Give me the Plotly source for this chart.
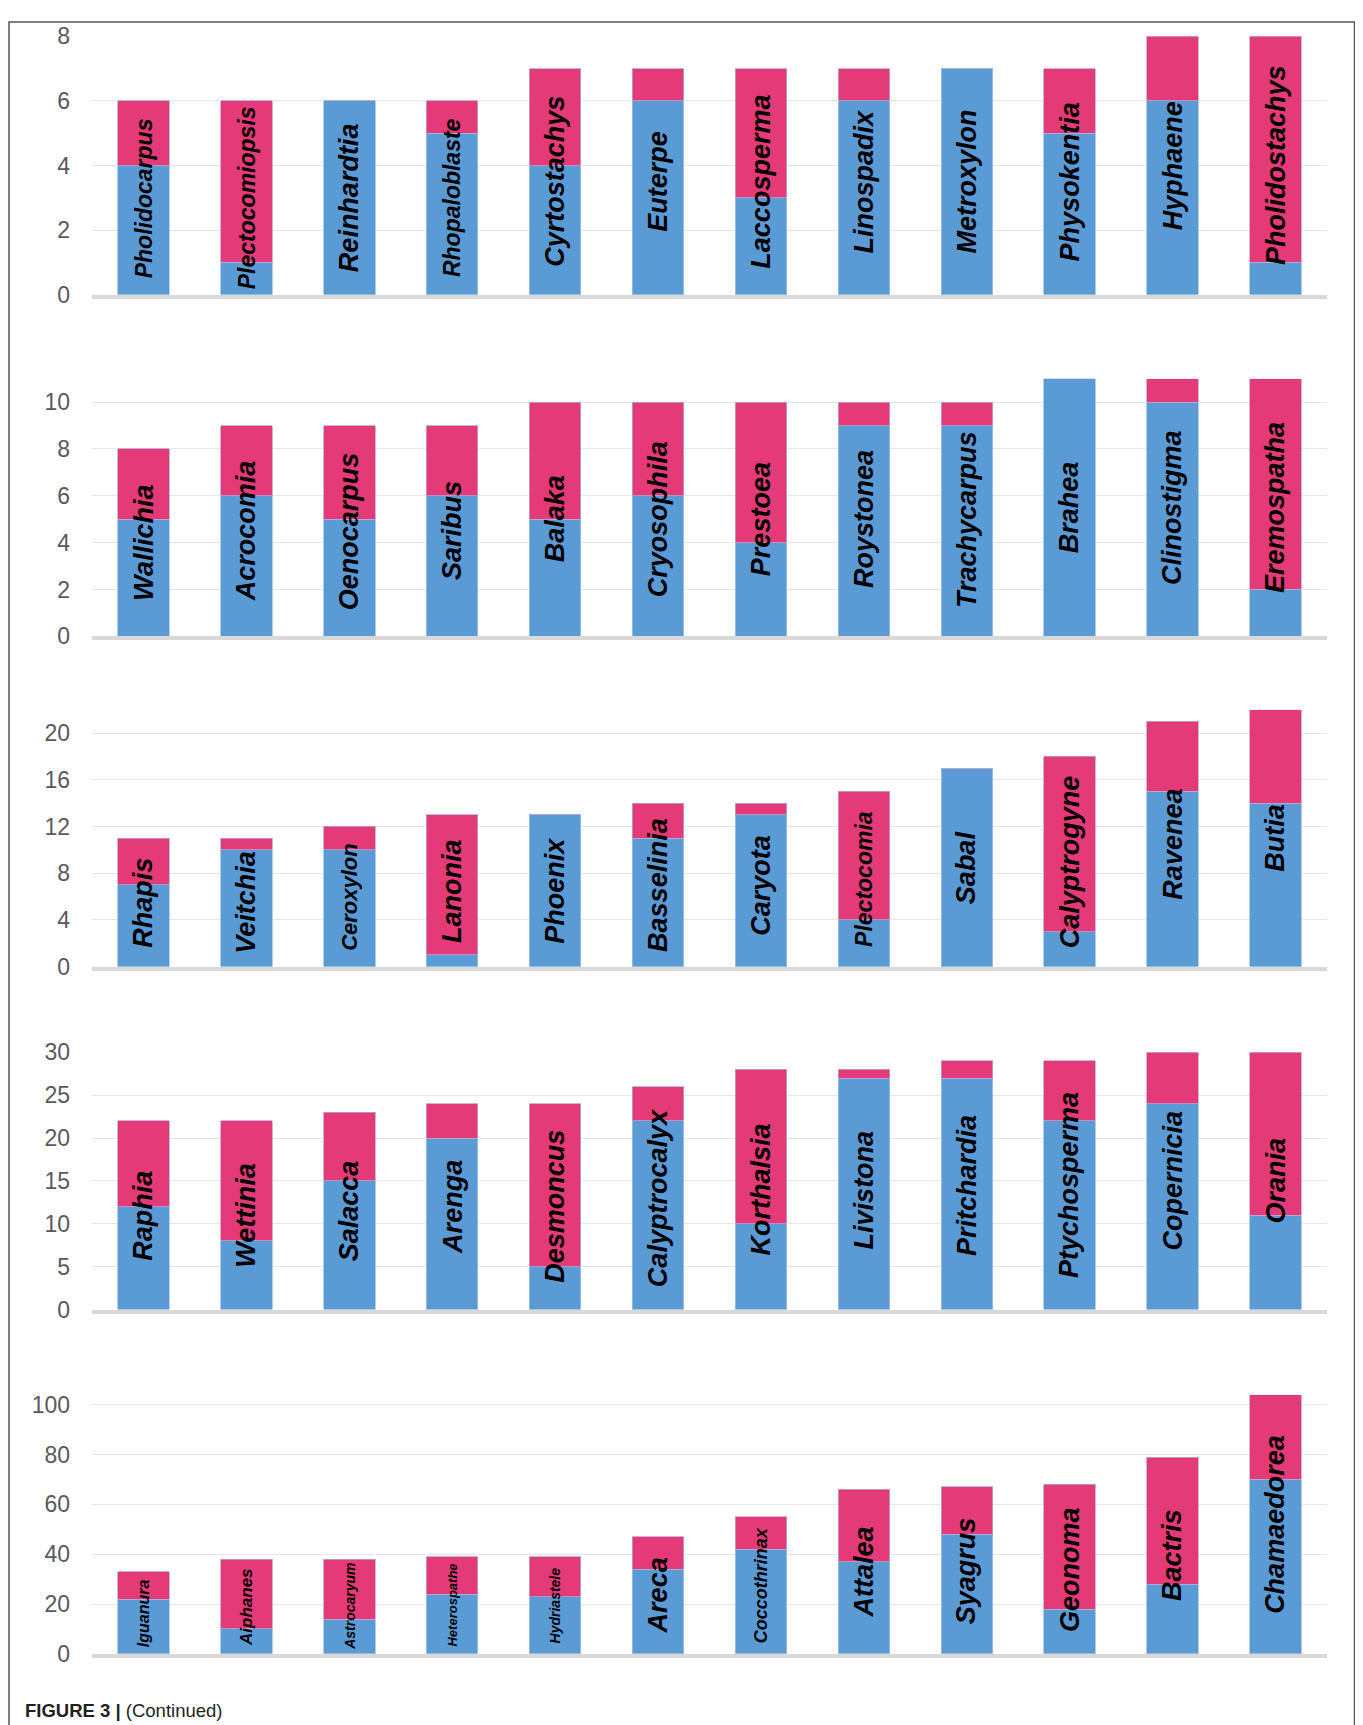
import plotly.graph_objects as go

# ---------------- data ----------------
cats1 = ["Pholidocarpus", "Plectocomiopsis", "Reinhardtia", "Rhopaloblaste", "Cyrtostachys", "Euterpe",
         "Laccosperma", "Linospadix", "Metroxylon", "Physokentia", "Hyphaene", "Pholidostachys"]
blue1 = [4, 1, 6, 5, 4, 6, 3, 6, 7, 5, 6, 1]
red1 = [2, 5, 0, 1, 3, 1, 4, 1, 0, 2, 2, 7]
ticks1 = [0, 2, 4, 6, 8]

cats2 = ["Wallichia", "Acrocomia", "Oenocarpus", "Saribus", "Balaka", "Cryosophila",
         "Prestoea", "Roystonea", "Trachycarpus", "Brahea", "Clinostigma", "Eremospatha"]
blue2 = [5, 6, 5, 6, 5, 6, 4, 9, 9, 11, 10, 2]
red2 = [3, 3, 4, 3, 5, 4, 6, 1, 1, 0, 1, 9]
ticks2 = [0, 2, 4, 6, 8, 10]

cats3 = ["Rhapis", "Veitchia", "Ceroxylon", "Lanonia", "Phoenix", "Basselinia",
         "Caryota", "Plectocomia", "Sabal", "Calyptrogyne", "Ravenea", "Butia"]
blue3 = [7, 10, 10, 1, 13, 11, 13, 4, 17, 3, 15, 14]
red3 = [4, 1, 2, 12, 0, 3, 1, 11, 0, 15, 6, 8]
ticks3 = [0, 4, 8, 12, 16, 20]

cats4 = ["Raphia", "Wettinia", "Salacca", "Arenga", "Desmoncus", "Calyptrocalyx",
         "Korthalsia", "Livistona", "Pritchardia", "Ptychosperma", "Copernicia", "Orania"]
blue4 = [12, 8, 15, 20, 5, 22, 10, 27, 27, 22, 24, 11]
red4 = [10, 14, 8, 4, 19, 4, 18, 1, 2, 7, 6, 19]
ticks4 = [0, 5, 10, 15, 20, 25, 30]

cats5 = ["Iguanura", "Aiphanes", "Astrocaryum", "Heterospathe", "Hydriastele", "Areca",
         "Coccothrinax", "Attalea", "Syagrus", "Geonoma", "Bactris", "Chamaedorea"]
blue5 = [22, 10, 14, 24, 23, 34, 42, 37, 48, 18, 28, 70]
red5 = [11, 28, 24, 15, 16, 13, 13, 29, 19, 50, 51, 34]
ticks5 = [0, 20, 40, 60, 80, 100]

caption = "<b>FIGURE 3 |</b> (Continued)"

# ---------------- styles / layout ----------------
label_sizes = [
    [23, 23, 27, 23, 27, 27, 27, 27, 27, 27, 27, 27],
    [27] * 12,
    [27, 27, 22, 27, 27, 27, 27, 23, 27, 27, 27, 27],
    [27] * 12,
    [16, 17, 14, 13, 14, 27, 18, 27, 27, 27, 27, 27],
]
# figure size and page placement (offset / vertical scale observed in the page capture)
W, H = 1347, 1730
OFF_X, OFF_Y, SY = 8, 22, 0.984


def px_x(x):
    return (x - OFF_X) / W


def px_y(y):
    return 1 - ((y - OFF_Y) / SY) / H


BLUE = "#5B9BD5"
PINK = "#E43A78"
FONT = "Liberation Sans, Arial, sans-serif"
# target page pixel rows: (zero line, top of plot) and axis range max
panel_px = [(295.5, 37.3), (636.7, 379.3), (966.7, 710.0), (1309.3, 1052.3), (1653.3, 1394.4)]
range_max = [8, 11, 22, 30, 104]
x_left, x_right = 92.0, 1327.0

panels = [
    (cats1, blue1, red1, ticks1),
    (cats2, blue2, red2, ticks2),
    (cats3, blue3, red3, ticks3),
    (cats4, blue4, red4, ticks4),
    (cats5, blue5, red5, ticks5),
]

fig = go.Figure()
annotations = []
layout_axes = {}

for i, (cats, blue, red, ticks) in enumerate(panels):
    n = i + 1
    xa = "x" if n == 1 else f"x{n}"
    ya = "y" if n == 1 else f"y{n}"
    fig.add_trace(go.Bar(x=cats, y=blue, xaxis=xa, yaxis=ya,
                         marker=dict(color=BLUE, line=dict(color="#9DC3E6", width=0.8)),
                         showlegend=False, hoverinfo="x+y"))
    fig.add_trace(go.Bar(x=cats, y=red, xaxis=xa, yaxis=ya,
                         marker=dict(color=PINK, line=dict(color="#B4A7D6", width=0.8)),
                         showlegend=False, hoverinfo="x+y"))
    z, top = panel_px[i]
    layout_axes["xaxis" if n == 1 else f"xaxis{n}"] = dict(
        domain=[px_x(x_left), px_x(x_right)], anchor=ya, type="category",
        showticklabels=False, showgrid=False, showline=True,
        linecolor="#D9D9D9", linewidth=4, ticks="", fixedrange=True,
    )
    layout_axes["yaxis" if n == 1 else f"yaxis{n}"] = dict(
        domain=[px_y(z), px_y(top)], anchor=xa, range=[0, range_max[i]],
        tickmode="array", tickvals=ticks, ticktext=[str(t) for t in ticks],
        showgrid=True, gridcolor="#E6E6E6", gridwidth=1, zeroline=False,
        showline=False, ticks="", ticklabelstandoff=21,
        tickfont=dict(family=FONT, size=23, color="#595959"),
    )
    for j, c in enumerate(cats):
        total = blue[j] + red[j]
        annotations.append(dict(
            x=c, y=total / 2, xref=xa, yref=ya, text=f"<b><i>{c}</i></b>",
            textangle=-90, showarrow=False, xanchor="center", yanchor="middle",
            font=dict(family=FONT, size=label_sizes[i][j], color="#000000"),
        ))

annotations.append(dict(
    x=px_x(23), y=px_y(1710), xref="paper", yref="paper", text=caption,
    showarrow=False, xanchor="left", yanchor="middle",
    font=dict(family=FONT, size=18.5, color="#231F20"),
))

fig.update_layout(
    width=W, height=H, margin=dict(l=0, r=0, t=0, b=0),
    paper_bgcolor="white", plot_bgcolor="white",
    barmode="stack", bargap=0.5,
    annotations=annotations,
    shapes=[dict(type="rect", xref="paper", yref="paper",
                 x0=px_x(9), x1=px_x(1354.5), y0=-0.02, y1=1 - 1.0 / H,
                 line=dict(color="#555555", width=1.5), fillcolor="rgba(0,0,0,0)", layer="above")],
    **layout_axes,
)

fig.write_html("out.html")
